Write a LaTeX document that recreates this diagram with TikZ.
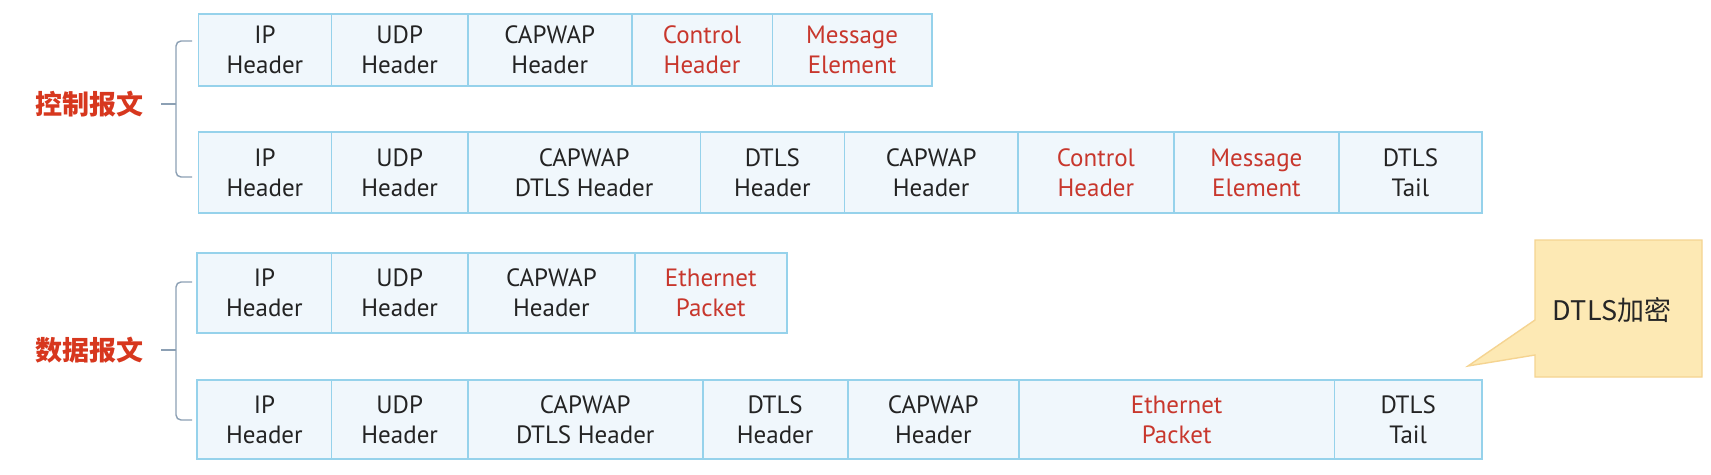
\documentclass[tikz,border=0pt]{standalone}
\usepackage{fontspec}
\setmainfont{PT Sans}
\newfontfamily\cjk{Noto Sans CJK SC}
\definecolor{cellfill}{RGB}{240,247,252}
\definecolor{celldraw}{RGB}{150,210,235}
\definecolor{txtgray}{RGB}{35,35,35}
\definecolor{txtred}{RGB}{200,55,45}
\definecolor{labred}{RGB}{215,55,30}
\definecolor{brgray}{RGB}{140,160,180}
\definecolor{callfill}{RGB}{253,233,180}
\definecolor{calldraw}{RGB}{245,212,145}
\tikzset{
  cell/.style={draw=celldraw, line width=1.8pt, fill=cellfill, inner sep=0pt,
    anchor=north west, align=center, text=txtgray,
    font=\fontsize{25}{30}\selectfont},
  redtxt/.style={text=txtred},
  grouplabel/.style={text=labred, font=\cjk\bfseries\fontsize{27}{30}\selectfont, anchor=center},
  bracketline/.style={draw=brgray, line width=1.4pt, rounded corners=5pt},
  calloutshape/.style={draw=calldraw, fill=callfill, line width=1.4pt},
  callouttext/.style={font=\cjk\fontsize{27}{30}\selectfont, text=black!85}
}
% \pcell{name}{x1}{x2}{y1}{y2}{style}{text}
\newcommand\pcell[7]{%
  \pgfmathsetmacro\cw{#3-#2}\pgfmathsetmacro\ch{#5-#4}%
  \node[cell,#6, minimum width=\cw pt, minimum height=\ch pt] (#1) at (#2,#4) {#7};}
\begin{document}
\begin{tikzpicture}[x=1pt,y=-1pt]
\useasboundingbox[fill=white] (0,0) rectangle (1711,474);
% Row 1
\pcell{ra}{197.5}{330.6}{13}{85}{}{IP\\Header}
\pcell{rb}{330.6}{467}{13}{85}{}{UDP\\Header}
\pcell{rc}{467}{630.7}{13}{85}{}{CAPWAP\\Header}
\pcell{rd}{630.7}{771.5}{13}{85}{redtxt}{Control\\Header}
\pcell{re}{771.5}{930.8}{13}{85}{redtxt}{Message\\Element}
% Row 2
\pcell{sa}{197.5}{330.6}{131}{212}{}{IP\\Header}
\pcell{sb}{330.6}{467}{131}{212}{}{UDP\\Header}
\pcell{sc}{467}{699.5}{131}{212}{}{CAPWAP\\DTLS Header}
\pcell{sd}{699.5}{843.5}{131}{212}{}{DTLS\\Header}
\pcell{se}{843.5}{1017}{131}{212}{}{CAPWAP\\Header}
\pcell{sf}{1017}{1173}{131}{212}{redtxt}{Control\\Header}
\pcell{sg}{1173}{1338}{131}{212}{redtxt}{Message\\Element}
\pcell{sh}{1338}{1481}{131}{212}{}{DTLS\\Tail}
% Row 3
\pcell{ta}{196.4}{330.6}{252}{332}{}{IP\\Header}
\pcell{tb}{330.6}{467}{252}{332}{}{UDP\\Header}
\pcell{tc}{467}{634}{252}{332}{}{CAPWAP\\Header}
\pcell{td}{634}{785.7}{252}{332}{redtxt}{Ethernet\\Packet}
% Row 4
\pcell{ua}{196.4}{330.6}{379}{458}{}{IP\\Header}
\pcell{ub}{330.6}{467}{379}{458}{}{UDP\\Header}
\pcell{uc}{467}{701.7}{379}{458}{}{CAPWAP\\DTLS Header}
\pcell{ud}{701.7}{846.8}{379}{458}{}{DTLS\\Header}
\pcell{ue}{846.8}{1018}{379}{458}{}{CAPWAP\\Header}
\pcell{uf}{1018}{1333.5}{379}{458}{redtxt}{Ethernet\\Packet}
\pcell{ug}{1333.5}{1481}{379}{458}{}{DTLS\\Tail}
% Group labels
\node[grouplabel] (ctl) at (89,104) {控制报文};
\node[grouplabel] (dat) at (89,350) {数据报文};
% Brackets
\coordinate (c1t) at (192,41);
\coordinate (c1b) at (192,177);
\coordinate (c1m) at (176,104);
\draw[bracketline] (c1t) -- (176,41) -- (176,177) -- (c1b);
\draw[bracketline] (c1m) -- ([xshift=14pt]ctl.east);
\coordinate (c2t) at (192,282);
\coordinate (c2b) at (192,420);
\coordinate (c2m) at (176,350);
\draw[bracketline] (c2t) -- (176,282) -- (176,420) -- (c2b);
\draw[bracketline] (c2m) -- ([xshift=14pt]dat.east);
% Callout
\coordinate (tip) at (1468,366);
\draw[calloutshape] (1535,240) -- (1702,240) -- (1702,377) -- (1535,377) -- (1535,355) -- (tip) -- (1535,320) -- cycle;
\node[callouttext] (enc) at (1612,310) {DTLS加密};
\end{tikzpicture}
\end{document}
